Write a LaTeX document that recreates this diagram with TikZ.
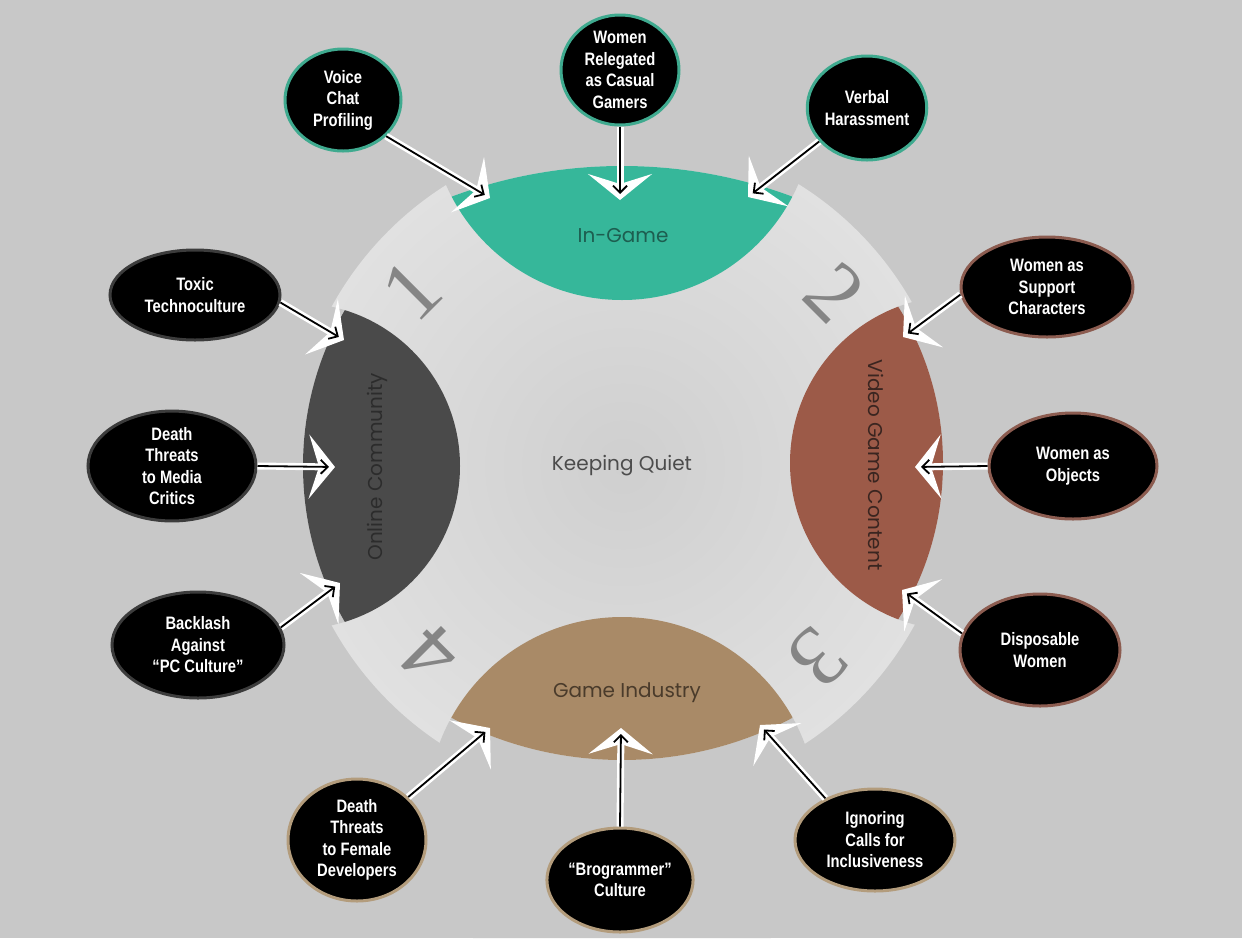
\documentclass[tikz,border=0pt]{standalone}
\usepackage{fontspec}
\usepackage{tikz}
\usetikzlibrary{arrows.meta,shapes.geometric}
\newfontfamily\lblfont[FakeStretch=0.82]{Liberation Sans}
\newfontfamily\segfont{Poppins}
\newfontfamily\numfont{Liberation Serif}
\definecolor{bgc}{HTML}{C8C8C8}
\definecolor{discin}{HTML}{CFCFCF}
\definecolor{discout}{HTML}{E1E1E1}
\definecolor{ingame}{HTML}{36B79A}
\definecolor{ingametxt}{HTML}{1D5E50}
\definecolor{online}{HTML}{4A4A4A}
\definecolor{onlinetxt}{HTML}{2C2C2C}
\definecolor{vgc}{HTML}{9C5A48}
\definecolor{vgctxt}{HTML}{3A2520}
\definecolor{industry}{HTML}{A98A67}
\definecolor{industrytxt}{HTML}{4A3B2B}
\definecolor{ingamebd}{HTML}{3FAA8F}
\definecolor{onlinebd}{HTML}{3C3C3C}
\definecolor{vgcbd}{HTML}{8C5C50}
\definecolor{industrybd}{HTML}{B39C7C}
\definecolor{numgray}{HTML}{858585}

\begin{document}
\begin{tikzpicture}[x=1pt,y=-1pt,
  topic/.style={ellipse,fill=black,draw=#1,line width=3pt,inner sep=0pt,
    text=white,align=center,font=\lblfont\bfseries\fontsize{18}{21.5}\selectfont},
  wline/.style={white,line width=7pt,-{Stealth[length=26pt,width=64pt,inset=10pt]}},
  bline/.style={black,line width=1.8pt,shorten >=6pt,-{Straight Barb[length=7pt,width=14pt]}},
  seg/.style={font=\segfont\fontsize{20}{24}\selectfont},
  num/.style={font=\numfont\fontsize{86}{86}\selectfont,text=numgray}
]
\useasboundingbox (0,0) rectangle (1242,938);
\fill[bgc] (0,0) rectangle (1242,938);

% disc
\shade[inner color=discin,outer color=discout] (623,466) circle (332);

% cut the disc outside the four segments
\begin{scope}
  \clip (622,108) circle (192);
  \fill[bgc,even odd rule] (0,0) rectangle (1242,938) (622,653) circle (487);
\end{scope}
\begin{scope}
  \clip (297,466) circle (163);
  \fill[bgc,even odd rule] (0,0) rectangle (1242,938) (614,466) circle (311);
\end{scope}
\begin{scope}
  \clip (957,463) circle (167);
  \fill[bgc,even odd rule] (0,0) rectangle (1242,938) (648,463) circle (295);
\end{scope}
\begin{scope}
  \clip (622,812) circle (195);
  \fill[bgc,even odd rule] (0,0) rectangle (1242,938) (622,395) circle (365);
\end{scope}

% segments
\begin{scope}
  \clip (622,653) circle (487);
  \fill[ingame] (622,108) circle (192);
\end{scope}
\begin{scope}
  \clip (614,466) circle (311);
  \fill[online] (297,466) circle (163);
\end{scope}
\begin{scope}
  \clip (648,463) circle (295);
  \fill[vgc] (957,463) circle (167);
\end{scope}
\begin{scope}
  \clip (622,395) circle (365);
  \fill[industry] (622,812) circle (195);
\end{scope}

\node[seg,text=ingametxt] (ingame-lbl) at (623,236) {In-Game};
\node[seg,text=onlinetxt,rotate=90] (online-lbl) at (377,467) {Online Community};
\node[seg,text=vgctxt,rotate=-90] (vgc-lbl) at (876,465) {Video Game Content};
\node[seg,text=industrytxt] (industry-lbl) at (627,693) {Game Industry};
\node[seg,text=black!70] (quiet) at (622,466) {Keeping Quiet};

\node[num,rotate=45] (n1) at (412,290) {1};
\node[num,rotate=-45] (n2) at (835,293) {2};
\node[num,rotate=-135] (n3) at (818,658) {3};
\node[num,rotate=135] (n4) at (430,655) {4};

% topics
\node[topic=ingamebd,minimum width=116pt,minimum height=102pt] (voice) at (343,100) {Voice\\Chat\\Profiling};
\node[topic=ingamebd,minimum width=118pt,minimum height=110pt] (relegated) at (620,70) {Women\\Relegated\\as Casual\\Gamers};
\node[topic=ingamebd,minimum width=116pt,minimum height=104pt] (verbal) at (867,108) {Verbal\\Harassment};
\node[topic=onlinebd,minimum width=170pt,minimum height=90pt] (toxic) at (195,295) {Toxic\\Technoculture};
\node[topic=onlinebd,minimum width=168pt,minimum height=108pt] (deathmedia) at (172,466) {Death\\Threats\\to Media\\Critics};
\node[topic=onlinebd,minimum width=172pt,minimum height=106pt] (backlash) at (198,645) {Backlash\\Against\\“PC Culture”};
\node[topic=vgcbd,minimum width=172pt,minimum height=100pt] (support) at (1047,287) {Women as\\Support\\Characters};
\node[topic=vgcbd,minimum width=168pt,minimum height=106pt] (objects) at (1073,466) {Women as\\Objects};
\node[topic=vgcbd,minimum width=160pt,minimum height=112pt] (disposable) at (1040,650) {Disposable\\Women};
\node[topic=industrybd,minimum width=138pt,minimum height=122pt] (deathdev) at (357,840) {Death\\Threats\\to Female\\Developers};
\node[topic=industrybd,minimum width=140pt,minimum height=104pt] (brogrammer) at (620,880) {“Brogrammer”\\Culture};
\node[topic=industrybd,minimum width=160pt,minimum height=102pt] (ignoring) at (875,840) {Ignoring\\Calls for\\Inclusiveness};

% arrow ends on the segments
\coordinate (t-voice) at (490,198);
\coordinate (t-relegated) at (620,200);
\coordinate (t-verbal) at (748,197);
\coordinate (t-toxic) at (344,340);
\coordinate (t-deathmedia) at (335,467);
\coordinate (t-backlash) at (340,583);
\coordinate (t-support) at (903,337);
\coordinate (t-objects) at (915,467);
\coordinate (t-disposable) at (902,590);
\coordinate (t-deathdev) at (490,728);
\coordinate (t-brogrammer) at (621,728);
\coordinate (t-ignoring) at (760,725);

\foreach \src/\dst in {voice.-40/t-voice, relegated.south/t-relegated, verbal.-145/t-verbal,
    toxic.-5/t-toxic, deathmedia.east/t-deathmedia, backlash.12/t-backlash,
    support.185/t-support, objects.west/t-objects, disposable.168/t-disposable,
    deathdev.40/t-deathdev, brogrammer.north/t-brogrammer, ignoring.140/t-ignoring}{
  \draw[wline] (\src) -- (\dst);
  \draw[bline] (\src) -- (\dst);
}
\end{tikzpicture}
\end{document}
